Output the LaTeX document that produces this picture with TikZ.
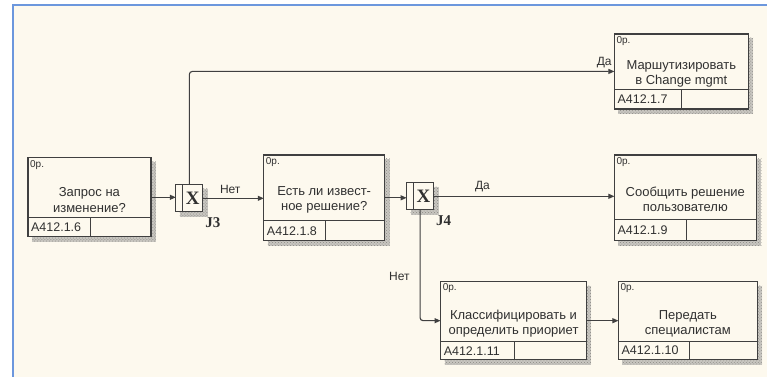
\documentclass[tikz,border=0pt]{standalone}
\usepackage{fontspec}
\setmainfont{Liberation Sans}
\newfontfamily\serifb{Liberation Serif}
\usetikzlibrary{arrows.meta,patterns}
\definecolor{bgc}{HTML}{FDF9EE}
\definecolor{framec}{HTML}{6C97DD}
\definecolor{linec}{HTML}{404040}
\definecolor{txtc}{HTML}{303030}
\definecolor{shadc}{HTML}{C8C6C0}
\definecolor{shaddot}{HTML}{8A8884}
\tikzset{
  act/.style={draw=linec, line width=1.3pt, fill=bgc, anchor=north west, inner sep=0pt, outer sep=0pt},
  shad/.style={fill=shadc, postaction={pattern=crosshatch dots, pattern color=shaddot}},
  jbox/.style={draw=linec, line width=1.3pt, fill=bgc, anchor=north west, inner sep=0pt, outer sep=0pt,
    minimum size=27pt},
  jx/.style={font=\serifb\bfseries\fontsize{19}{19}\selectfont, inner sep=0pt, text=txtc},
  txt/.style={font=\fontsize{13}{15.5}\selectfont, align=center, inner sep=0pt, text=txtc},
  cost/.style={font=\fontsize{10}{11}\selectfont, anchor=north west, inner sep=0pt, text=txtc},
  ident/.style={font=\fontsize{12.5}{13}\selectfont, anchor=west, inner sep=0pt, text=txtc},
  conn/.style={draw=linec, line width=1.1pt, -{Triangle[length=6pt,width=5pt]}, rounded corners=3pt},
  lbl/.style={font=\fontsize{12}{13}\selectfont, inner sep=0pt, text=txtc},
  jlbl/.style={font=\serifb\bfseries\fontsize{15}{16}\selectfont, inner sep=0pt, text=txtc}
}
\newcommand\actbox[9]{%
  \fill[shad] (#2+4,#3+4) rectangle (#4+5,#5+5);
  \node[act, minimum width={#4-#2}, minimum height={#5-#3}] (#1) at (#2,#3) {};
  \draw[linec, line width=1pt] (#2,#6) -- (#4,#6) (#7,#6) -- (#7,#5);
  \node[cost] (#1c) at (#2+2,#3+2) {0р.};
  \node[ident] (#1i) at (#2+3,{(#6+#5)/2}) {#9};
  \node[txt] (#1t) at ({(#2+#4)/2},{(#3+#6)/2+12}) {#8};
}
\newcommand\junc[4]{% name, x, y, label
  \fill[shad] (#2+4,#3+4) rectangle (#2+32,#3+32);
  \node[jbox] (#1) at (#2,#3) {};
  \draw[linec, line width=1pt] ([xshift=7pt]#1.north west) -- ([xshift=7pt]#1.south west);
  \node[jx] (#1x) at ([xshift=3.5pt]#1.center) {X};
  \node[jlbl] (#1l) at ([xshift=10pt,yshift=-11pt]#1.south east) {#4};
}
\begin{document}
\begin{tikzpicture}[x=1pt,y=-1pt]
\fill[white] (0,0) rectangle (768,377);
\fill[bgc] (13,5) rectangle (768,377);
\draw[framec, line width=1.5pt] (13,377) -- (13,5) -- (768,5);
\useasboundingbox (0,0) rectangle (768,377);

\actbox{a16}{28}{158}{151}{237}{218}{91}{Запрос на\\изменение?}{A412.1.6}
\actbox{a18}{264}{155}{385}{241}{221}{326}{Есть ли извест-\\ное решение?}{A412.1.8}
\actbox{a17}{615}{34}{749}{109}{90}{682}{Маршутизировать\\в Change mgmt}{A412.1.7}
\actbox{a19}{615}{155}{757}{241}{220}{687}{Сообщить решение\\пользователю}{A412.1.9}
\actbox{a111}{441}{282}{587}{360}{342}{515}{Классифицировать и\\определить приориет}{A412.1.11}
\actbox{a110}{619}{282}{758}{360}{342}{690}{Передать\\специалистам}{A412.1.10}

\junc{j3}{176}{185}{J3}
\junc{j4}{407}{183}{J4}

\draw[conn] (a16.east) -- (a16.east -| j3.west);
\draw[conn] (j3.east) -- (j3.east -| a18.west) node[lbl, pos=0.45, above=4pt] (l1) {Нет};
\draw[conn] (j3.north) |- (a17.west) node[lbl, pos=0.988, above=3pt] (l2) {Да};
\draw[conn] (a18.east) -- (a18.east -| j4.west);
\draw[conn] (j4.east) -- (j4.east -| a19.west) node[lbl, pos=0.27, above=4pt] (l3) {Да};
\draw[conn] (j4.south) |- (a111.west) node[lbl, pos=0.30, left=10pt] (l4) {Нет};
\draw[conn] (a111.east) -- (a111.east -| a110.west);
\end{tikzpicture}
\end{document}
